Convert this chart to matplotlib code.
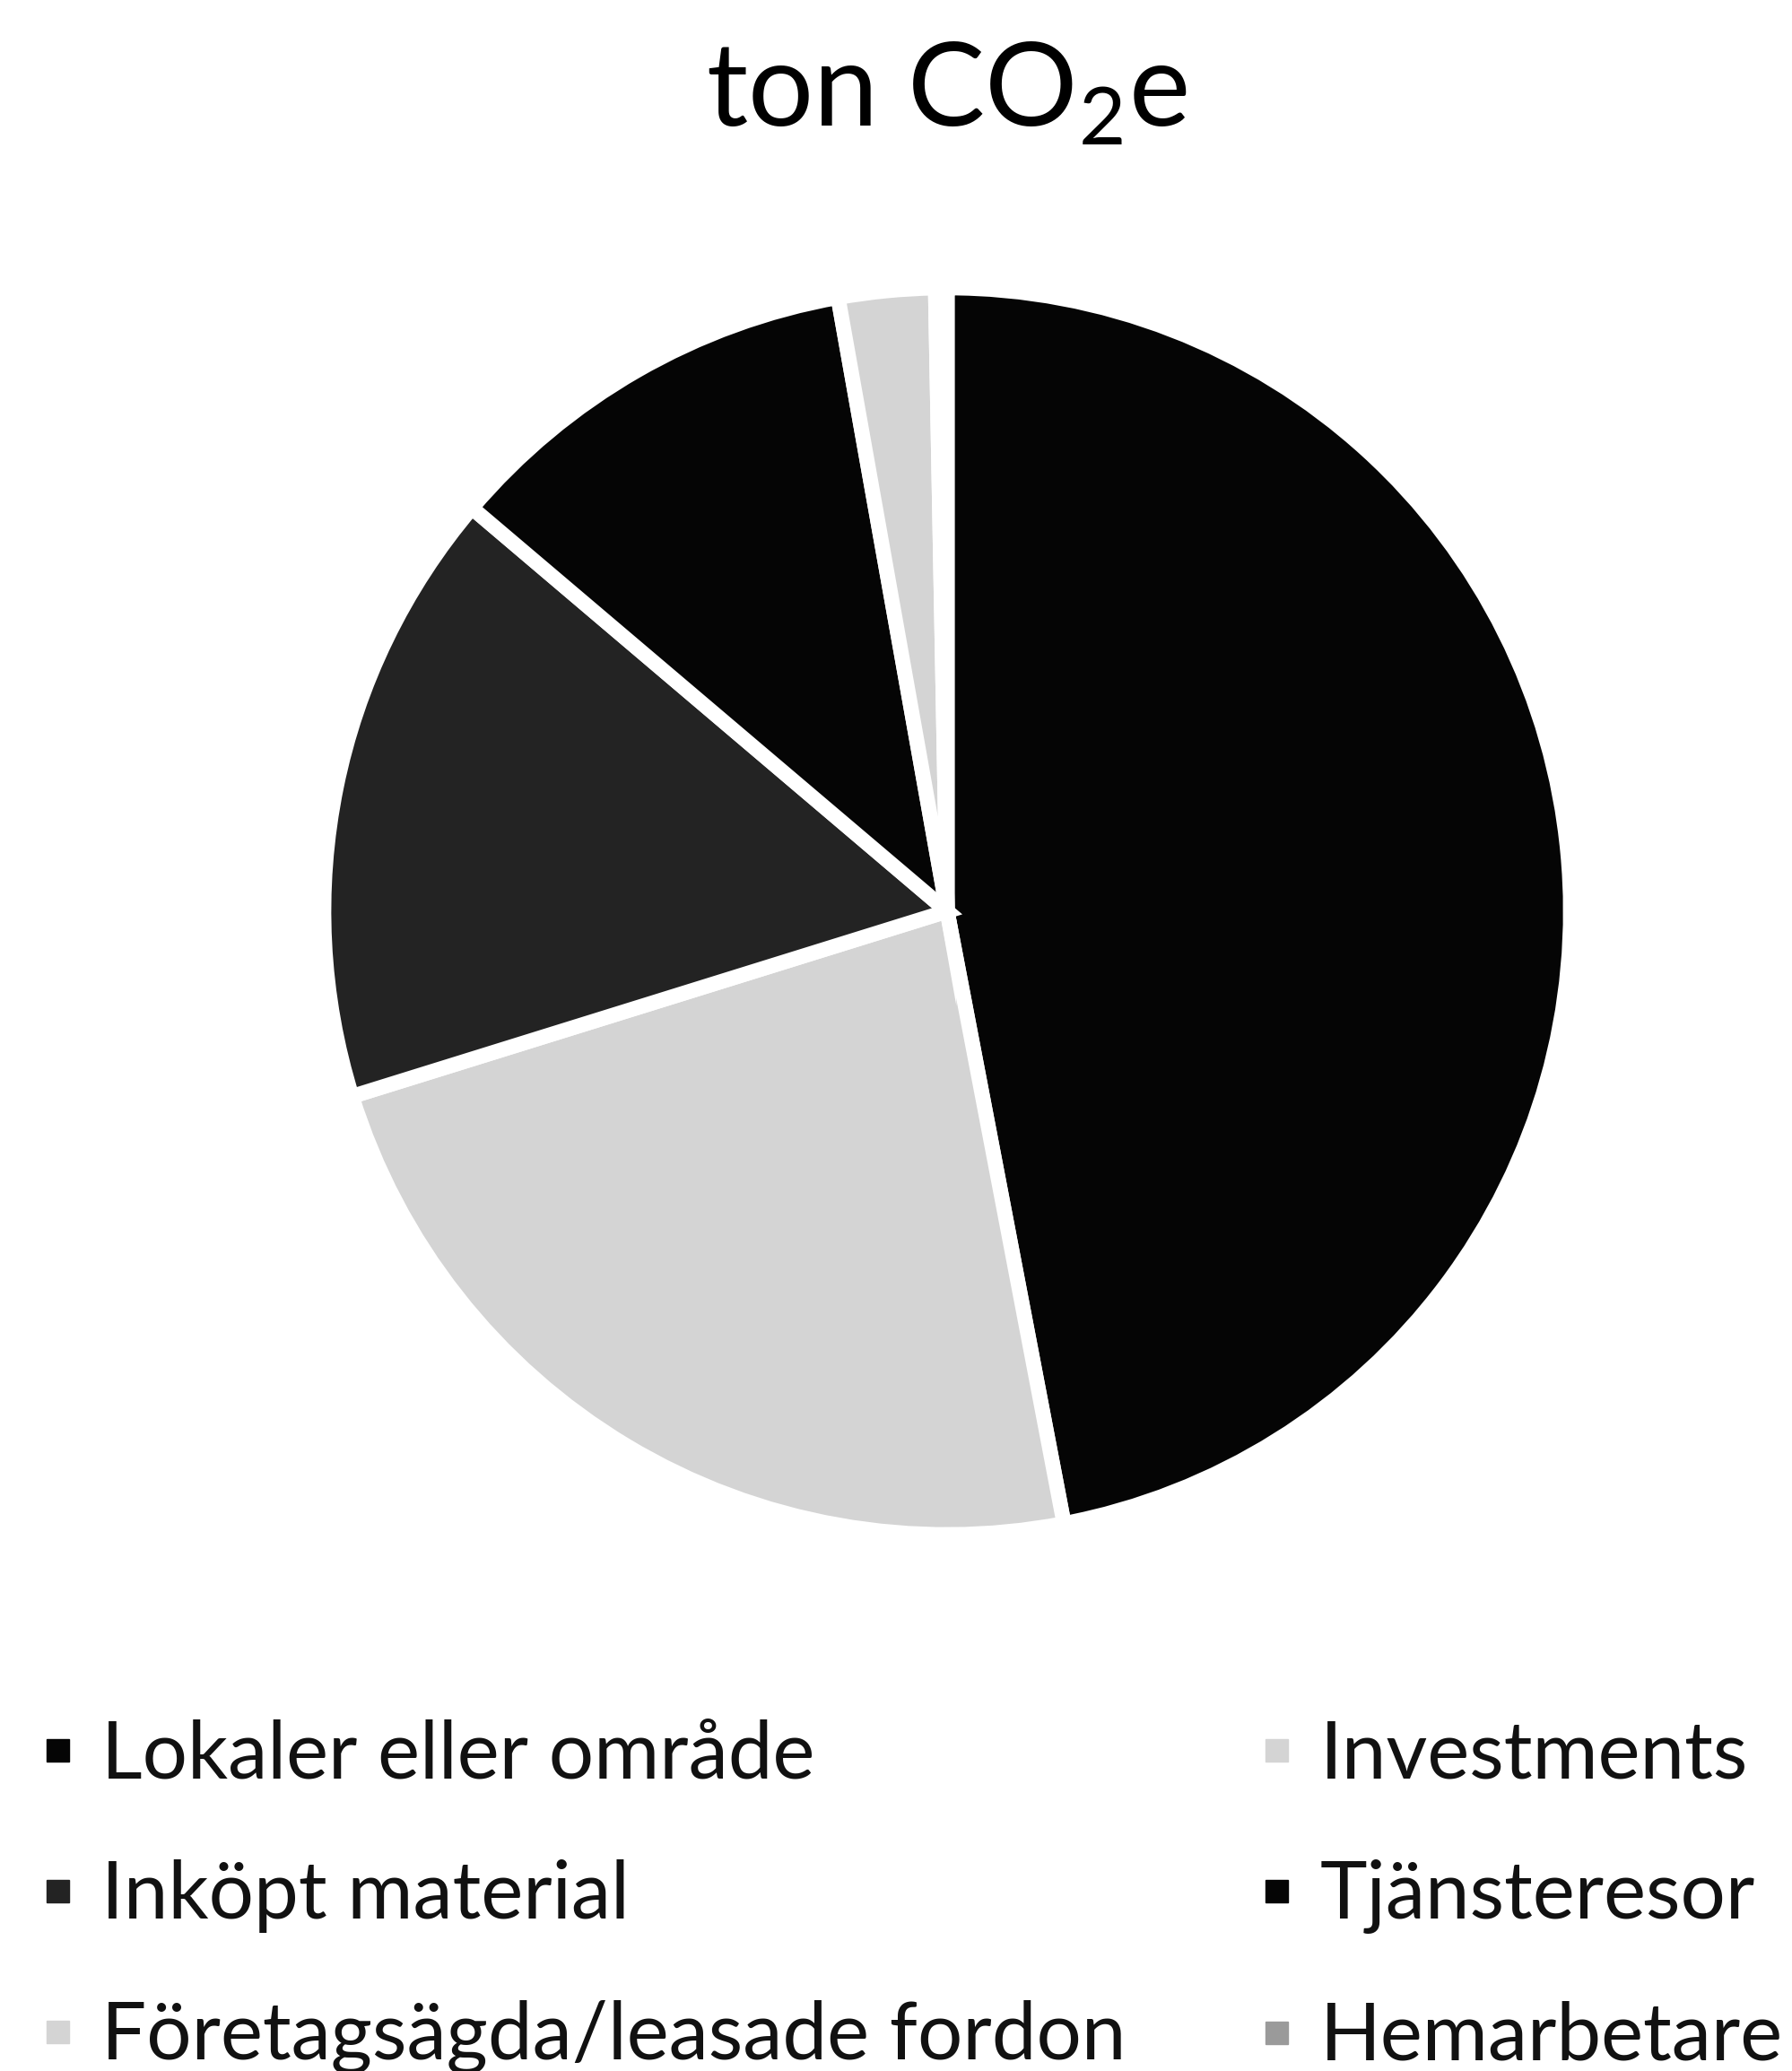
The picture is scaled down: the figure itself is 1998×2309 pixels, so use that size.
import matplotlib
matplotlib.use("Agg")
import matplotlib.pyplot as plt
from matplotlib.lines import Line2D

plt.rcParams["font.family"] = ["Lato", "DejaVu Sans"]
plt.rcParams["mathtext.fontset"] = "custom"
plt.rcParams["mathtext.rm"] = "Lato"

# data, in pie order (clockwise from 12 o'clock)
categories = ["Lokaler eller område", "Investments", "Inköpt material",
              "Tjänsteresor", "Företagsägda/leasade fordon", "Hemarbetare"]
shares = [47.0, 23.2, 16.0, 11.0, 2.5, 0.3]
colors = ["#050505", "#d4d4d4", "#232323", "#050505", "#d4d4d4", "#9a9a9a"]

fig = plt.figure(figsize=(19.98, 23.09), dpi=100)

ax = fig.add_axes([0.1807, 0.259, 0.6957, 0.602])
ax.pie(shares, colors=colors, startangle=90, counterclock=False, radius=1.0,
       wedgeprops=dict(edgecolor="white", linewidth=12))
ax.set_xlim(-1.0, 1.0)
ax.set_ylim(-1.0, 1.0)
ax.set_aspect("equal")
ax.axis("off")

fig.text(0.528, 0.955, r"ton CO$_\mathregular{2}$e", ha="center", va="center",
         fontsize=93, color="black")

# legend: two columns, filled row by row as in the source chart
handles = {c: Line2D([], [], linestyle="none", marker="s", markersize=18,
                     markerfacecolor=col, markeredgecolor=col)
           for c, col in zip(categories, colors)}
col1 = ["Lokaler eller område", "Inköpt material", "Företagsägda/leasade fordon"]
col2 = ["Investments", "Tjänsteresor", "Hemarbetare"]

for names, x0 in [(col1, 0.021), (col2, 0.701)]:
    leg = fig.legend([handles[n] for n in names], names, loc="upper left",
                     bbox_to_anchor=(x0, 0.170), frameon=False, fontsize=64,
                     borderpad=0, borderaxespad=0, handlelength=0.5,
                     handletextpad=0.3, labelspacing=0.84)
    for t in leg.get_texts():
        t.set_color("#111111")

fig.savefig("out.png", dpi=100, facecolor="white")
